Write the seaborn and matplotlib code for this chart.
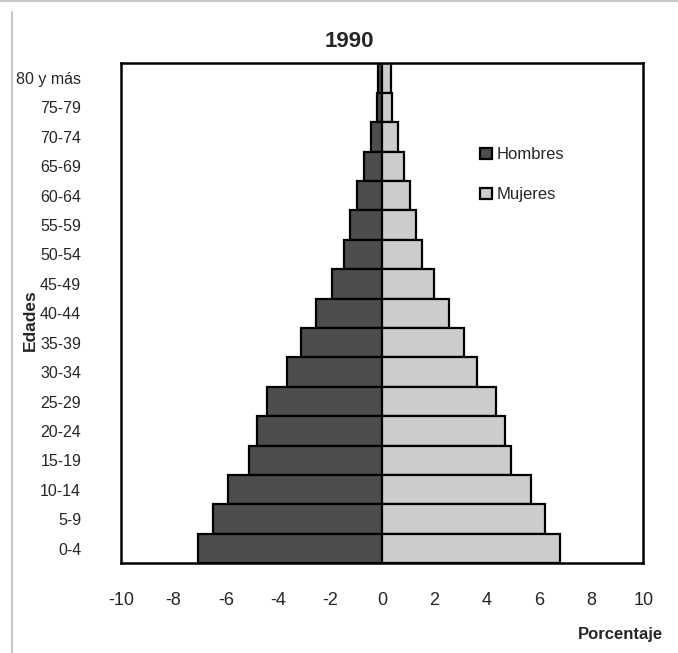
import numpy as np
import pandas as pd
import matplotlib
matplotlib.use("Agg")
import matplotlib.pyplot as plt
import seaborn as sns
from matplotlib.lines import Line2D
from matplotlib.patches import Patch

sns.set_theme(style="white")
plt.rcParams['font.family'] = ['Liberation Sans', 'DejaVu Sans']

# Datos (top to bottom)
edades = ["80 y más", "75-79", "70-74", "65-69", "60-64", "55-59", "50-54", "45-49",
          "40-44", "35-39", "30-34", "25-29", "20-24", "15-19", "10-14", "5-9", "0-4"]
hombres = [0.15, 0.21, 0.44, 0.69, 0.98, 1.24, 1.46, 1.94,
           2.54, 3.13, 3.64, 4.41, 4.82, 5.10, 5.92, 6.48, 7.05]
mujeres = [0.32, 0.38, 0.61, 0.81, 1.06, 1.29, 1.52, 1.96,
           2.54, 3.13, 3.62, 4.36, 4.70, 4.93, 5.70, 6.24, 6.81]
xticks = [-10, -8, -6, -4, -2, 0, 2, 4, 6, 8, 10]

df = pd.DataFrame({
    "Edades": edades * 2,
    "Porcentaje": [-h for h in hombres] + mujeres,
    "Sexo": ["Hombres"] * len(edades) + ["Mujeres"] * len(edades),
})

colores = {"Hombres": "#4d4d4d", "Mujeres": "#cccccc"}

fig = plt.figure(figsize=(6.78, 6.53), dpi=100)
ax = fig.add_axes([0.1792, 0.1374, 0.7696, 0.7657])

sns.barplot(data=df, x="Porcentaje", y="Edades", hue="Sexo", order=edades,
            palette=colores, orient="h", dodge=False, width=1.0,
            edgecolor="black", linewidth=1.6, legend=False, ax=ax)

ax.set_xlim(-10, 10)
ax.set_ylim(len(edades) - 0.5, -0.5)
ax.set_xticks(xticks)
ax.set_xticklabels([str(t) for t in xticks], fontsize=13)
ax.tick_params(axis="x", direction="out", length=6, width=1.5, color="black", pad=15)
ax.tick_params(axis="y", length=0, pad=29, labelsize=11.5)
ax.set_xlabel("")
ax.set_ylabel("")
for s in ax.spines.values():
    s.set_color("black")
    s.set_linewidth(1.8)

fig.text(0.516, 0.936, "1990", ha="center", va="center", fontsize=16, fontweight="bold")
fig.text(0.045, 0.51, "Edades", rotation=90, ha="center", va="center",
         fontsize=12.5, fontweight="bold")
fig.text(0.978, 0.028, "Porcentaje", ha="right", va="center",
         fontsize=12, fontweight="bold")

handles = [Patch(facecolor=colores[k], edgecolor="black", linewidth=1.6) for k in ["Hombres", "Mujeres"]]
ax.legend(handles, ["Hombres", "Mujeres"], loc="upper left", bbox_to_anchor=(0.659, 0.862),
          frameon=False, fontsize=12, handlelength=0.7, handleheight=0.7,
          handletextpad=0.3, labelspacing=1.5)

# borde gris del marco
fig.add_artist(Line2D([0, 1], [0.998, 0.998], color="#c8c8c8", lw=1.5, transform=fig.transFigure))
fig.add_artist(Line2D([0.018, 0.018], [0, 0.982], color="#c8c8c8", lw=1.5, transform=fig.transFigure))

fig.savefig("out.png", dpi=100)
